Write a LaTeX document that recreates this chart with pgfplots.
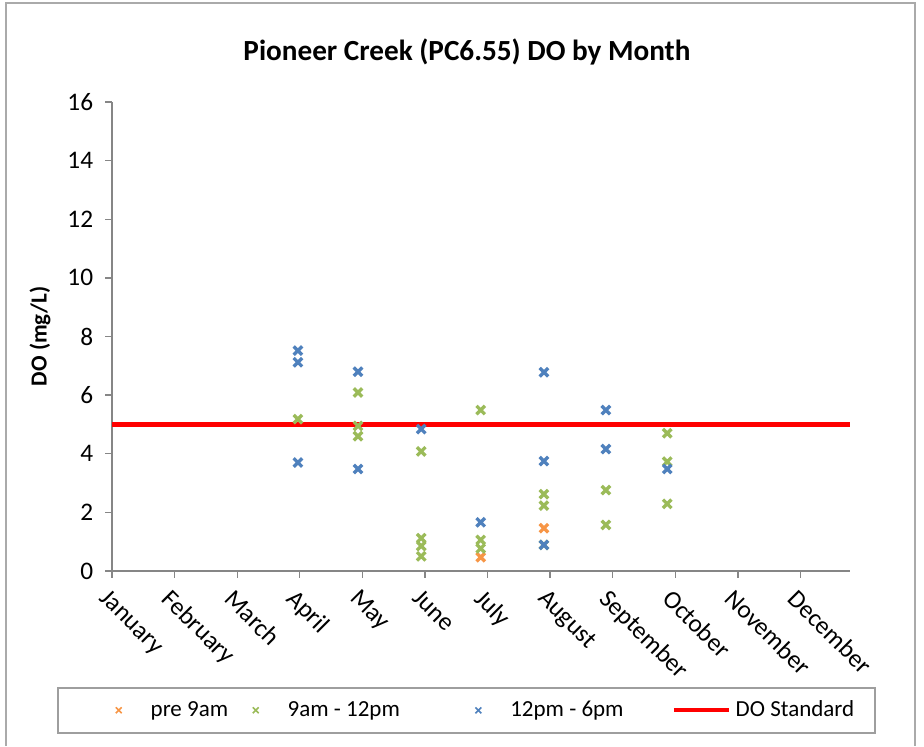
\documentclass[border=0pt]{standalone}
\usepackage{pgfplots}
\pgfplotsset{compat=1.18}
\usepackage{fontspec}
\setmainfont{Carlito}
\definecolor{cOr}{HTML}{F79646}
\definecolor{cGr}{HTML}{9BBB59}
\definecolor{cBl}{HTML}{4F81BD}
\definecolor{axgray}{HTML}{868686}
\pgfplotsset{
  mleg/.style={legend image code/.code={\draw[##1, mark size=1.8pt, line width=0.7pt] plot coordinates {(0pt,0pt)}; \path[draw=none,fill=none] (10.9pt,0pt);}},
  rleg/.style={legend image code/.code={\draw[##1, line width=1.8pt] (0pt,0pt) -- (24pt,0pt);}},
  frame/.style={at={(48.72pt,76.13pt)}, anchor=south west,
    scale only axis, width=321.03pt, height=204.02pt},
  legax/.style={frame, hide axis, xmin=0, xmax=1, ymin=0, ymax=1,
    legend style={at={(axis description cs:#1,-0.297)}, anchor=west, draw=none, fill=none,
    font=\fontsize{10}{12}\selectfont, inner xsep=3pt, inner ysep=2pt, nodes={inner sep=2pt}},
    legend cell align=left},
}
\begin{document}
\begin{tikzpicture}[x=0.435pt,y=0.435pt]
\useasboundingbox[fill=white] (0,0) rectangle (924,746);
\draw[axgray!70, line width=1.2pt] (6,0) -- (6,743) -- (915,743) -- (915,0);
\draw[axgray!80, line width=0.5pt] (58,13) rectangle (875,58);
\node[font=\fontsize{12.7}{15}\selectfont\bfseries, text=black] at (467,694) {Pioneer Creek (PC6.55) DO by Month};
\begin{axis}[
  frame,
  xmin=0, xmax=11.79, ymin=0, ymax=16,
  xtick={0,1,2,3,4,5,6,7,8,9,10,11},
  xticklabels={January,February,March,April,May,June,July,August,September,October,November,December},
  ytick={0,2,4,6,8,10,12,14,16},
  tick align=outside, major tick length=3pt,
  axis line style={axgray, line width=0.6pt},
  tick style={axgray, line width=0.6pt},
  axis x line*=bottom, axis y line*=left,
  /pgf/number format/assume math mode=true,
  ticklabel style={font=\fontsize{11}{13}\selectfont, text=black},
  yticklabel style={xshift=-1.7pt},
  xticklabel style={rotate=-45, anchor=north west, xshift=-1pt},
  ylabel={\textbf{DO (mg/L)}},
  ylabel style={at={(axis description cs:-0.0976,0.5)}, anchor=center, font=\fontsize{10}{12}\selectfont},
  clip=false,
]
\addplot[only marks, mark=x, mark size=2.6pt, line width=1.45pt, color=cOr] coordinates {
(5.89,0.47) (6.90,1.46)};
\addplot[only marks, mark=x, mark size=2.6pt, line width=1.45pt, color=cGr] coordinates {
(2.97,5.18)
(3.93,6.09) (3.93,4.95) (3.93,4.60)
(4.94,4.08) (4.94,1.12) (4.94,0.85) (4.94,0.50)
(5.89,5.49) (5.89,1.06) (5.89,0.77)
(6.90,2.62) (6.90,2.23) (6.90,0.89)
(7.89,2.76) (7.89,1.57)
(8.87,4.70) (8.87,3.73) (8.87,2.29)};
\addplot[only marks, mark=x, mark size=2.6pt, line width=1.45pt, color=cBl] coordinates {
(2.97,7.52) (2.97,7.12) (2.97,3.70)
(3.93,6.80) (3.93,3.48)
(4.94,4.84)
(5.89,1.66)
(6.90,6.78) (6.90,3.75) (6.90,0.89)
(7.89,5.49) (7.89,4.16)
(8.87,3.48)};
\addplot[red, line width=2.2pt] coordinates {(0,5) (11.79,5)};
\end{axis}
\begin{axis}[legax=-0.0048]
\addlegendimage{only marks, mark=x, color=cOr, mleg}
\addlegendentry{\hspace{1pt}pre 9am}
\end{axis}
\begin{axis}[legax=0.1808]
\addlegendimage{only marks, mark=x, color=cGr, mleg}
\addlegendentry{\hspace{1pt}9am - 12pm}
\end{axis}
\begin{axis}[legax=0.4825]
\addlegendimage{only marks, mark=x, color=cBl, mleg}
\addlegendentry{\hspace{1pt}12pm - 6pm}
\end{axis}
\begin{axis}[legax=0.7486]
\addlegendimage{red, rleg}
\addlegendentry{DO Standard}
\end{axis}
\end{tikzpicture}
\end{document}
